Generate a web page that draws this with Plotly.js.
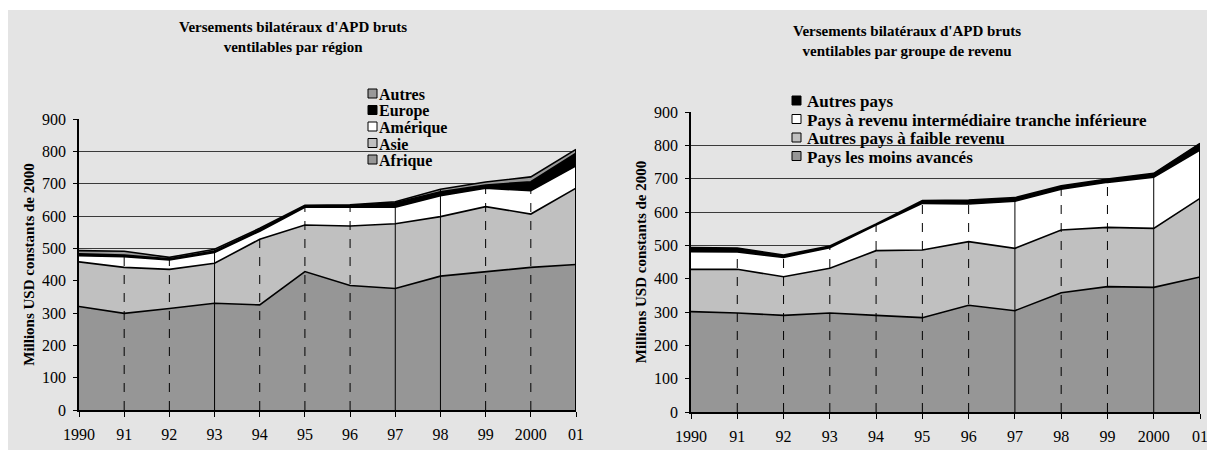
<!DOCTYPE html>
<html>
<head>
<meta charset="utf-8">
<script src="https://cdn.plot.ly/plotly-3.0.1.min.js"></script>
<style>
  html, body { margin: 0; padding: 0; background: #ffffff; }
  #chart { position: absolute; left: 8px; top: 10px; width: 1199px; height: 440px; }
</style>
</head>
<body>
<div id="chart"></div>
<script>
// ---------- DATA ----------
const years = [1990, 1991, 1992, 1993, 1994, 1995, 1996, 1997, 1998, 1999, 2000, 2001];
const yearLabels = ['1990', '91', '92', '93', '94', '95', '96', '97', '98', '99', '2000', '01'];

// Left chart: by region (millions USD, constant 2000)
const afrique  = [320, 299, 314, 330, 325, 428, 385, 376, 414, 427, 441, 450];
const asie     = [138, 142, 121, 124, 203, 144, 184, 200, 184, 202, 165, 236];
const amerique = [19, 33, 29, 33, 25, 55, 58, 51, 65, 57, 72, 69];
const europe   = [6, 5, 4, 5, 5, 4, 5, 14, 12, 10, 28, 39];
const autres   = [10, 12, 4, 5, 4, 2, 3, 3, 8, 9, 15, 12];
const leftNames = ['Afrique', 'Asie', 'Amérique', 'Europe', 'Autres'];

// Right chart: by income group
const pma        = [301, 297, 290, 297, 290, 283, 320, 304, 358, 376, 374, 405];
const faible     = [127, 131, 116, 134, 194, 203, 191, 187, 188, 178, 177, 236];
const priti      = [53, 52, 58, 62, 77, 140, 113, 141, 122, 135, 153, 145];
const autresPays = [12, 12, 7, 5, 3, 8, 12, 11, 11, 10, 12, 20];
const rightNames = ['Pays les moins avancés', 'Autres pays à faible revenu',
                    'Pays à revenu intermédiaire tranche inférieure', 'Autres pays'];

const leftTitle  = "Versements bilatéraux d'APD bruts<br>ventilables par région";
const rightTitle = "Versements bilatéraux d'APD bruts<br>ventilables par groupe de revenu";
const yTitle = "Millions USD constants de 2000";

// ---------- STYLE ----------
const FONT = 'Liberation Serif, Times New Roman, serif';
const BG = '#e4e4e4';
const leftColors  = ['#969696', '#c0c0c0', '#ffffff', '#000000', '#999999'];
const rightColors = ['#969696', '#c0c0c0', '#ffffff', '#000000'];
const solidLeft = [1993, 1997, 1998];
const solidRight = [1997, 2000];

const W = 1199, H = 440;
const px = v => (v - 8) / W;         // page x pixels -> paper
const py = v => 1 - (v - 10) / H;    // page y pixels -> paper

function area(name, vals, color, xa, ya, group) {
  return { type: 'scatter', mode: 'lines', x: years, y: vals, name: name,
    stackgroup: group, fillcolor: color, line: { color: '#000', width: 1.6 },
    xaxis: xa, yaxis: ya, showlegend: false, hoverinfo: 'x+y+name' };
}

const leftSeries = [afrique, asie, amerique, europe, autres];
const rightSeries = [pma, faible, priti, autresPays];
const traces = [];
leftSeries.forEach((s, i) => traces.push(area(leftNames[i], s, leftColors[i], 'x', 'y', 'L')));
rightSeries.forEach((s, i) => traces.push(area(rightNames[i], s, rightColors[i], 'x2', 'y2', 'R')));

// totals for vertical year lines
function totals(arrs) { return years.map((_, i) => arrs.reduce((s, a) => s + a[i], 0)); }
const totL = totals(leftSeries);
const totR = totals(rightSeries);

const shapes = [];
const annotations = [];
function yearLines(tot, xr, yr, solidSet) {
  years.forEach((yv, i) => {
    if (i === 0) return;
    const last = i === years.length - 1;
    shapes.push({ type: 'line', layer: 'above', xref: xr, yref: yr,
      x0: yv, x1: yv, y0: 0, y1: tot[i],
      line: { color: '#000', width: last ? 2 : 1, dash: (last || solidSet.includes(yv)) ? 'solid' : 'dash' } });
  });
}
yearLines(totL, 'x', 'y', solidLeft);
yearLines(totR, 'x2', 'y2', solidRight);

// custom legends (tight Excel-like spacing)
function legendBlock(names, colors, box, sqX, textX, y0, dy, fsize) {
  shapes.push({ type: 'rect', layer: 'between', xref: 'paper', yref: 'paper',
    x0: px(box[0]), x1: px(box[1]), y0: py(box[3]), y1: py(box[2]),
    fillcolor: BG, line: { width: 0 } });
  // legend listed top-down = reverse of stacking order
  const n = names.length;
  for (let k = 0; k < n; k++) {
    const idx = n - 1 - k;
    const cy = y0 + k * dy;
    shapes.push({ type: 'rect', layer: 'above', xref: 'paper', yref: 'paper',
      x0: px(sqX), x1: px(sqX + 9), y0: py(cy + 4.5), y1: py(cy - 4.5),
      fillcolor: colors[idx], line: { color: '#000', width: 1 } });
    annotations.push({ text: '<b>' + names[idx] + '</b>', xref: 'paper', yref: 'paper',
      x: px(textX), y: py(cy + 1), xanchor: 'left', yanchor: 'middle', showarrow: false,
      borderpad: 0, font: { family: FONT, size: fsize, color: '#000' } });
  }
}
legendBlock(leftNames, leftColors, [367, 497, 84, 168], 368, 378, 93.5, 16.5, 16);
legendBlock(rightNames, rightColors, [773, 1162, 91, 165], 792, 806, 100.5, 18.5, 17);

function xAxis(domain, anchor) {
  return { domain: domain, anchor: anchor, range: [1990, 2001], tickvals: years, ticktext: yearLabels,
    showgrid: false, zeroline: false, showline: true, linecolor: '#000', linewidth: 1.5,
    ticks: 'outside', ticklen: 5, tickcolor: '#000', ticklabelstandoff: 4,
    ticklabeloverflow: 'allow',
    tickfont: { family: FONT, size: 16, color: '#000' }, fixedrange: true };
}
function yAxis(domain, anchor) {
  return { domain: domain, anchor: anchor, range: [0, 900], dtick: 100, tick0: 0,
    showgrid: true, gridcolor: '#3a3a3a', gridwidth: 1, zeroline: false,
    showline: true, linecolor: '#000', linewidth: 1.5,
    ticks: 'outside', ticklen: 4, tickcolor: '#000', ticklabelstandoff: 4,
    tickfont: { family: FONT, size: 16, color: '#000' },
    title: { text: '<b>' + yTitle + '</b>', font: { family: FONT, size: 15, color: '#000' }, standoff: 4 },
    fixedrange: true };
}

const layout = {
  width: W, height: H,
  margin: { l: 0, r: 0, t: 0, b: 0 },
  paper_bgcolor: BG, plot_bgcolor: BG,
  font: { family: FONT, color: '#000' },
  showlegend: false,
  xaxis: xAxis([px(79), px(576)], 'y'),
  yaxis: yAxis([py(410), py(119)], 'x'),
  xaxis2: xAxis([px(691), px(1200)], 'y2'),
  yaxis2: yAxis([py(412), py(112)], 'x2'),
  shapes: shapes,
  annotations: annotations.concat([
    { text: '<b>' + leftTitle + '</b>', xref: 'paper', yref: 'paper', x: px(293), y: py(37),
      xanchor: 'center', yanchor: 'middle', showarrow: false,
      font: { family: FONT, size: 15, color: '#000' } },
    { text: '<b>' + rightTitle + '</b>', xref: 'paper', yref: 'paper', x: px(907), y: py(41),
      xanchor: 'center', yanchor: 'middle', showarrow: false,
      font: { family: FONT, size: 15, color: '#000' } }
  ])
};

Plotly.newPlot('chart', traces, layout, { displayModeBar: false });
</script>
</body>
</html>
